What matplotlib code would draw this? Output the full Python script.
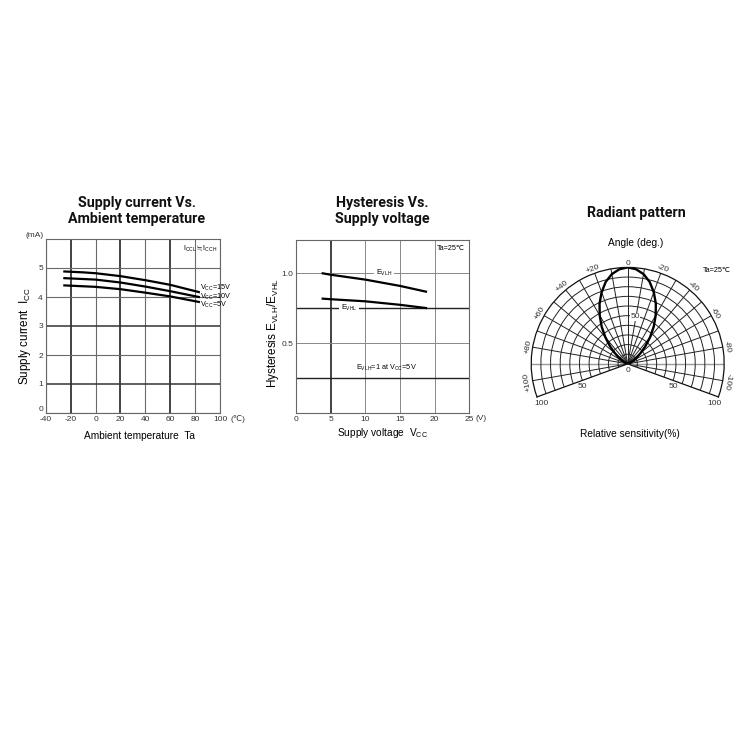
import numpy as np
import matplotlib
matplotlib.use('Agg')
import matplotlib.pyplot as plt

plt.rcParams['font.family'] = ['Liberation Sans', 'DejaVu Sans']
plt.rcParams['mathtext.fontset'] = 'custom'
plt.rcParams['mathtext.rm'] = 'Liberation Sans'
plt.rcParams['mathtext.it'] = 'Liberation Sans:italic'
plt.rcParams['mathtext.bf'] = 'Liberation Sans:bold'
plt.rcParams['mathtext.fallback'] = 'stix'

# ---------------- data ----------------
# Chart 1: supply current vs ambient temperature
ta_15 = [-25, -10, 0, 20, 40, 60, 83]
icc_15 = [4.88, 4.85, 4.82, 4.72, 4.58, 4.42, 4.17]
ta_10 = [-25, -10, 0, 20, 40, 60, 83]
icc_10 = [4.65, 4.62, 4.60, 4.50, 4.36, 4.20, 4.00]
ta_5 = [-25, -10, 0, 20, 40, 60, 83]
icc_5 = [4.40, 4.37, 4.35, 4.27, 4.15, 4.02, 3.83]
temp_ticks = [-40, -20, 0, 20, 40, 60, 80, 100]
icc_ticks = [0, 1, 2, 3, 4, 5]

# Chart 2: hysteresis vs supply voltage
vcc_vlh = [3.85, 5, 10, 15, 18.75]
e_vlh = [1.00, 0.99, 0.955, 0.91, 0.869]
vcc_vhl = [3.85, 5, 10, 15, 18.75]
e_vhl = [0.819, 0.815, 0.80, 0.775, 0.752]
volt_ticks = [0, 5, 10, 15, 20, 25]

# Chart 3: radiant pattern
angle_deg = [-90, -80, -70, -60, -55, -50, -45, -40, -35, -30, -25, -20, -15, -10, -5,
             0, 5, 10, 15, 20, 25, 30, 35, 40, 45, 50, 55, 60, 70, 80, 90]
sensitivity = [0, 0.5, 2, 6.5, 11, 17.5, 26, 36, 47, 58, 69, 79, 88, 94.5, 98.5,
               100, 98.5, 94.5, 88, 79, 69, 58, 47, 36, 26, 17.5, 11, 6.5, 2, 0.5, 0]
angle_labels = [0, 20, 40, 60, 80, 100]

W = H = 750.0
fig = plt.figure(figsize=(7.5, 7.5), dpi=100)

def fx(px):
    return px / W

def fy(py):
    return 1 - py / H

TITLE_FONT = dict(family=['Roboto', 'DejaVu Sans'], weight='bold', size=10.3, color='#111111')
LABEL_FS = 7.3
YLABEL_FS = 8.4
TICK_FS = 6
TICK_COLOR = '#333333'
ANN_FS = 5.2

# ---------------- Chart 1 ----------------
ax1 = fig.add_axes([fx(45.7), fy(413), fx(220) - fx(45.7), fy(239) - fy(413)])
ax1.plot(ta_15, icc_15, color='black', lw=1.6)
ax1.plot(ta_10, icc_10, color='black', lw=1.6)
ax1.plot(ta_5, icc_5, color='black', lw=1.6)
ax1.set_xlim(-40, 100)
ax1.set_ylim(0, 6)
ax1.set_xticks(temp_ticks)
ax1.set_xticklabels([str(t) for t in temp_ticks])
ax1.set_yticks(icc_ticks)
ax1.set_yticklabels([str(t) for t in icc_ticks])
ax1.tick_params(length=0, labelsize=TICK_FS, labelcolor=TICK_COLOR, pad=2)
ax1.get_yticklabels()[0].set_va('bottom')
ax1.grid(True, color='#555555', lw=0.8)
for v, gl in zip(temp_ticks, ax1.get_xgridlines()):
    if v in (-20, 20, 60):
        gl.set_color('#222222'); gl.set_linewidth(1.2)
    else:
        gl.set_color('#6a6a6a'); gl.set_linewidth(0.8)
for v, gl in zip(icc_ticks, ax1.get_ygridlines()):
    if v in (1, 3):
        gl.set_color('#333333'); gl.set_linewidth(1.1)
    else:
        gl.set_color('#6a6a6a'); gl.set_linewidth(0.8)
for s in ax1.spines.values():
    s.set_color('#666666'); s.set_linewidth(0.8)
ax1.text(-0.01, 1.0, '(mA)', transform=ax1.transAxes, ha='right', va='bottom',
         fontsize=TICK_FS, color=TICK_COLOR)
ax1.text(1.06, -0.012, '(℃)', transform=ax1.transAxes, ha='left', va='top',
         fontsize=TICK_FS, color=TICK_COLOR)
ax1.text(84, 4.32, r'V$_{\rm CC}$=15V', ha='left', va='center', fontsize=ANN_FS, clip_on=False)
ax1.text(84, 4.02, r'V$_{\rm CC}$=10V', ha='left', va='center', fontsize=ANN_FS, clip_on=False)
ax1.text(84, 3.72, r'V$_{\rm CC}$=5V', ha='left', va='center', fontsize=ANN_FS, clip_on=False)
ax1.text(98, 5.66, r'I$_{\rm CCL}$$\fallingdotseq$I$_{\rm CCH}$', ha='right', va='center',
         fontsize=ANN_FS)

fig.text(fx(137), fy(211), 'Supply current Vs.\nAmbient temperature', ha='center', va='center',
         multialignment='center', linespacing=1.15, **TITLE_FONT)
fig.text(fx(25), fy(336), r'Supply current  I$_{\rm CC}$', rotation=90, ha='center', va='center',
         fontsize=YLABEL_FS)
fig.text(fx(140), fy(436), 'Ambient temperature  Ta', ha='center', va='center', fontsize=LABEL_FS)

# ---------------- Chart 2 ----------------
ax2 = fig.add_axes([fx(296), fy(413.3), fx(469.3) - fx(296), fy(240) - fy(413.3)])
ax2.plot(vcc_vlh, e_vlh, color='black', lw=1.6)
ax2.plot(vcc_vhl, e_vhl, color='black', lw=1.6)
ax2.set_xlim(0, 25)
ax2.set_ylim(0, 1.238)
ax2.set_xticks(volt_ticks)
ax2.set_xticklabels([str(v) for v in volt_ticks])
hy_ticks = [0.25, 0.5, 0.75, 1.0]
ax2.set_yticks(hy_ticks)
ax2.set_yticklabels(['', '0.5', '', '1.0'])
ax2.tick_params(length=0, labelsize=TICK_FS, labelcolor=TICK_COLOR, pad=2)
ax2.grid(True)
for v, gl in zip(volt_ticks, ax2.get_xgridlines()):
    if v == 5:
        gl.set_color('#333333'); gl.set_linewidth(1.3)
    else:
        gl.set_color('#888888'); gl.set_linewidth(0.7)
for v, gl in zip(hy_ticks, ax2.get_ygridlines()):
    if v in (0.25, 0.75):
        gl.set_color('#222222'); gl.set_linewidth(1.0)
    else:
        gl.set_color('#888888'); gl.set_linewidth(0.7)
for s in ax2.spines.values():
    s.set_color('#666666'); s.set_linewidth(0.8)
ax2.text(1.035, -0.012, '(V)', transform=ax2.transAxes, ha='left', va='top',
         fontsize=TICK_FS, color=TICK_COLOR)
ax2.text(12.7, 1.0, r'E$_{\rm VLH}$', ha='center', va='center', fontsize=ANN_FS,
         bbox=dict(fc='white', ec='none', pad=1.2))
ax2.text(7.65, 0.75, r'E$_{\rm VHL}$', ha='center', va='center', fontsize=ANN_FS,
         bbox=dict(fc='white', ec='none', pad=1.2))
ax2.text(13.0, 0.325, r'E$_{\rm VLH}$=1 at V$_{\rm CC}$=5V', ha='center', va='center', fontsize=ANN_FS)
ax2.text(24.3, 1.175, 'Ta=25℃', ha='right', va='center', fontsize=ANN_FS)

fig.text(fx(382), fy(211), 'Hysteresis Vs.\nSupply voltage', ha='center', va='center',
         multialignment='center', linespacing=1.15, **TITLE_FONT)
fig.text(fx(273), fy(333), r'Hysteresis E$_{\rm VLH}$/E$_{\rm VHL}$', rotation=90, ha='center',
         va='center', fontsize=YLABEL_FS)
fig.text(fx(382), fy(433), r'Supply voltage  V$_{\rm CC}$', ha='center', va='center', fontsize=LABEL_FS)

# ---------------- Chart 3 (polar) ----------------
R_PX = 97.7
CX, CY = 627.7, 364.3
# the wedge bbox is padded to a square; centre of that square sits 0.329 R above the pole
box_cy = CY - R_PX * (1 - np.cos(np.deg2rad(70))) / 2
ax3 = fig.add_axes([fx(CX - R_PX), fy(box_cy + R_PX), 2 * R_PX / W, 2 * R_PX / H],
                   projection='polar')
ax3.set_theta_zero_location('N')
ax3.set_theta_direction(1)
ax3.set_thetamin(-110)
ax3.set_thetamax(110)
ax3.set_rlim(0, 100)
ax3.set_xticks(np.deg2rad(np.arange(-100, 101, 10)))
ax3.set_xticklabels([])
ax3.set_yticks(np.arange(10, 100, 10))
ax3.set_yticklabels([])
ax3.tick_params(length=0)
ax3.grid(True, color='#222222', lw=0.7)
for gl, a in zip(ax3.get_xgridlines(), np.arange(-100, 101, 10)):
    if abs(a) == 90:
        gl.set_color('#999999'); gl.set_linewidth(1.0)
for name, s in ax3.spines.items():
    s.set_color('#111111'); s.set_linewidth(0.9)
ax3.plot(np.deg2rad(angle_deg), sensitivity, color='black', lw=1.7)

for a in angle_labels:
    if a == 0:
        ax3.text(0, 104.5, '0', ha='center', va='center', fontsize=TICK_FS, color=TICK_COLOR,
                 clip_on=False)
        continue
    ax3.text(np.deg2rad(a), 105, '+%d' % a, rotation=a, rotation_mode='anchor', ha='center',
             va='center', fontsize=TICK_FS, color=TICK_COLOR, clip_on=False)
    ax3.text(np.deg2rad(-a), 105, '-%d' % a, rotation=-a, rotation_mode='anchor', ha='center',
             va='center', fontsize=TICK_FS, color=TICK_COLOR, clip_on=False)

ax3.text(np.deg2rad(-3), 49, '50', ha='left', va='center', fontsize=TICK_FS, color=TICK_COLOR,
         bbox=dict(fc='white', ec='none', pad=0.3))
ax3.annotate('0', xy=(0, 0), xytext=(0, -2.5), textcoords='offset points', ha='center', va='top',
             fontsize=TICK_FS, color=TICK_COLOR, annotation_clip=False)
for sgn in (1, -1):
    ax3.annotate('50', xy=(np.deg2rad(110 * sgn), 50), xytext=(0, -2), textcoords='offset points',
                 ha='center', va='top', fontsize=TICK_FS, color=TICK_COLOR, annotation_clip=False)
    ax3.annotate('100', xy=(np.deg2rad(110 * sgn), 100), xytext=(3 * sgn, -2),
                 textcoords='offset points', ha='center', va='top', fontsize=TICK_FS,
                 color=TICK_COLOR, annotation_clip=False)

fig.text(fx(636), fy(213), 'Radiant pattern', ha='center', va='center', **TITLE_FONT)
fig.text(fx(636), fy(243), 'Angle (deg.)', ha='center', va='center', fontsize=LABEL_FS)
fig.text(fx(717), fy(271), 'Ta=25℃', ha='center', va='center', fontsize=ANN_FS)
fig.text(fx(630), fy(434), 'Relative sensitivity(%)', ha='center', va='center', fontsize=LABEL_FS)

fig.savefig('out.png', dpi=100, facecolor='white')
